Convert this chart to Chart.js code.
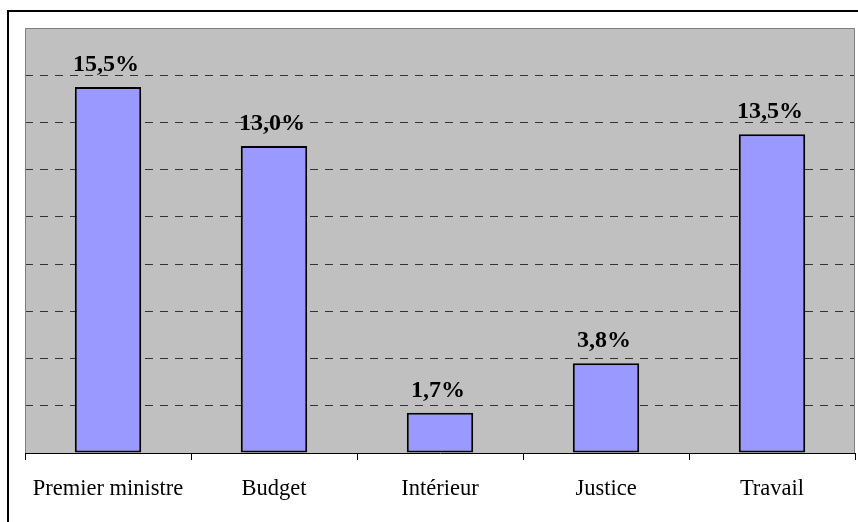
<!DOCTYPE html>
<html>
<head>
<meta charset="utf-8">
<script src="https://cdn.jsdelivr.net/npm/chart.js@4/dist/chart.umd.min.js"></script>
<style>
html,body{margin:0;padding:0;background:#fff;}
#wrap{width:858px;height:522px;position:relative;}
</style>
</head>
<body>
<div id="wrap"><canvas id="c" width="858" height="522"></canvas></div>
<script>
const categories = ["Premier ministre", "Budget", "Intérieur", "Justice", "Travail"];
const values = [15.5, 13.0, 1.7, 3.8, 13.5];
const yTicks = [0, 2, 4, 6, 8, 10, 12, 14, 16, 18];

const SERIF = "'Times New Roman', 'Liberation Serif', serif";

const framePlugin = {
  id: 'frame',
  beforeDraw(chart) {
    const ctx = chart.ctx, a = chart.chartArea;
    ctx.save();
    ctx.fillStyle = '#fff';
    ctx.fillRect(0, 0, chart.width, chart.height);
    ctx.strokeStyle = '#000';
    ctx.lineWidth = 2;
    ctx.strokeRect(8, 11, chart.width + 20, chart.height + 20);
    ctx.fillStyle = '#C0C0C0';
    ctx.fillRect(a.left, a.top, a.right - a.left, a.bottom - a.top);
    ctx.restore();
  },
  afterDraw(chart) {
    const ctx = chart.ctx, a = chart.chartArea;
    ctx.save();
    ctx.strokeStyle = '#808080';
    ctx.lineWidth = 1;
    ctx.beginPath();
    ctx.moveTo(a.left + 0.5, a.bottom);
    ctx.lineTo(a.left + 0.5, a.top + 0.5);
    ctx.lineTo(a.right - 0.5, a.top + 0.5);
    ctx.lineTo(a.right - 0.5, a.bottom);
    ctx.stroke();
    ctx.restore();
  }
};

const labelPlugin = {
  id: 'vlabels',
  afterDatasetsDraw(chart) {
    const ctx = chart.ctx;
    const meta = chart.getDatasetMeta(0);
    ctx.save();
    ctx.font = 'bold 24px ' + SERIF;
    ctx.fillStyle = '#000';
    ctx.textAlign = 'center';
    ctx.textBaseline = 'alphabetic';
    meta.data.forEach((bar, i) => {
      const txt = values[i].toFixed(1).replace('.', ',') + '%';
      ctx.fillText(txt, bar.x - 2, bar.y - 16);
    });
    ctx.restore();
  }
};

new Chart(document.getElementById('c'), {
  type: 'bar',
  data: {
    labels: categories,
    datasets: [{
      data: values,
      backgroundColor: '#9999FF',
      borderColor: '#000',
      borderWidth: 2,
      borderSkipped: false,
      barPercentage: 0.4,
      categoryPercentage: 1.0
    }]
  },
  options: {
    responsive: false,
    animation: false,
    devicePixelRatio: 1,
    layout: { padding: { left: 25, right: 3, top: 28, bottom: 0 } },
    plugins: { legend: { display: false }, tooltip: { enabled: false } },
    scales: {
      x: {
        afterFit(s) { s.height = 69; },
        grid: { offset: true, drawOnChartArea: false, drawTicks: true, tickLength: 7, color: '#000', lineWidth: 1 },
        border: { display: true, color: '#000', width: 1 },
        ticks: { color: '#000', font: { family: SERIF, size: 22.5 }, padding: 16, maxRotation: 0, autoSkip: false }
      },
      y: {
        min: yTicks[0],
        max: yTicks[yTicks.length - 1],
        afterFit(s) { s.width = 0; },
        afterBuildTicks(s) { s.ticks = yTicks.map(v => ({ value: v })); },
        ticks: { display: false },
        border: { display: false, dash: [8, 7] },
        grid: {
          drawTicks: false,
          tickLength: 0,
          lineWidth: 1,
          color: ctx => (ctx.tick && (ctx.tick.value === 0 || ctx.tick.value === 18)) ? 'rgba(0,0,0,0)' : '#333333'
        }
      }
    }
  },
  plugins: [framePlugin, labelPlugin]
});
</script>
</body>
</html>
